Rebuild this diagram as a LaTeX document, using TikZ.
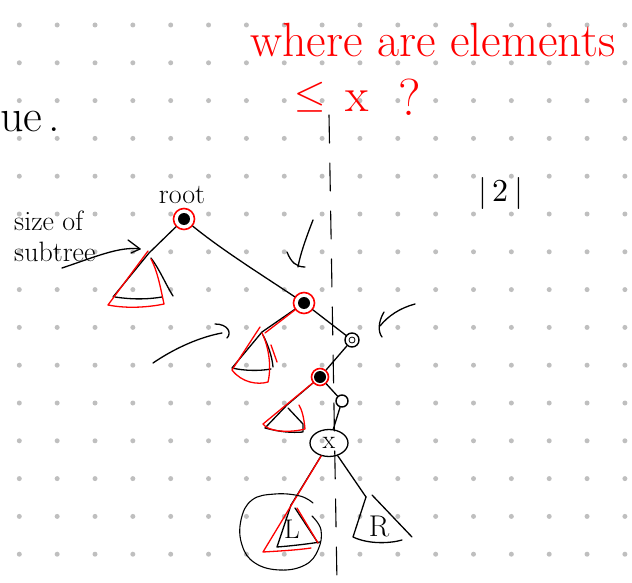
\documentclass[tikz,border=0pt]{standalone}
\usepackage{unicode-math}
\usetikzlibrary{shapes.geometric}
\begin{document}
\begin{tikzpicture}[x=1pt,y=-1pt,
  ink/.style={line width=1.3pt, line cap=round, line join=round},
  redink/.style={ink, red},
  dotgrid/.style={fill=black!25},
  rednode/.style={circle, draw=red, line width=1.6pt, minimum size=21pt, inner sep=0pt,
    path picture={\fill[black] (path picture bounding box.center) circle (6pt);}},
  smallred/.style={rednode, minimum size=17pt},
  hollow/.style={circle, draw=black, line width=1.4pt, minimum size=14pt, inner sep=0pt,
    path picture={\draw[black, line width=0.8pt] (path picture bounding box.center) circle (3pt);}},
  tiny/.style={circle, draw=black, line width=1.4pt, minimum size=12pt, inner sep=0pt},
  xnode/.style={ellipse, draw=black, line width=1.3pt, minimum width=38pt, minimum height=27pt, inner sep=0pt, font=\fontsize{26}{28}\selectfont},
  redtext/.style={text=red, inner sep=0pt},
  handtext/.style={text=black, inner sep=0pt}
]
\useasboundingbox (0,0) rectangle (632,583);
% dot grid
\foreach \i in {0,...,16}{
  \foreach \j in {0,...,14}{
    \fill[dotgrid] (19.3+37.85*\i, 25+37.8*\j) circle (2.5);
  }
}
% texts
\node[redtext, anchor=base west, font=\fontsize{48}{52}\selectfont] (title) at (250,57) {where are elements};
\node[redtext, anchor=base west, font=\fontsize{40}{44}\selectfont] (le) at (294,108) {$\leq$};
\node[redtext, anchor=base west, font=\fontsize{48}{52}\selectfont] (xq) at (345,112) {x};
\node[redtext, anchor=base west, font=\fontsize{52}{56}\selectfont] (qm) at (398,116) {?};
\node[handtext, anchor=base west, font=\fontsize{46}{50}\selectfont] (ue) at (0,132) {ue\hspace{6pt}.};
\node[handtext, anchor=base, font=\fontsize{28}{30}\selectfont] (rootlbl) at (182,203) {root};
\node[handtext, anchor=base west, font=\fontsize{28}{30}\selectfont] (size) at (14,230) {size of};
\node[handtext, anchor=base west, font=\fontsize{28}{30}\selectfont] (subtree) at (14,261) {subtree};
\node[handtext, anchor=base, font=\fontsize{32}{34}\selectfont] (two) at (501,201) {$|\,2\,|$};
% dashed separator
\coordinate (dtop) at (329,115);
\coordinate (dbot) at (337,583);
\draw[ink, line width=1.1pt, dash pattern=on 28pt off 20pt] (dtop) -- (dbot);
% tree nodes
\node[rednode] (root) at (184,219) {};
\node[rednode] (n2) at (304,303) {};
\node[hollow] (n3) at (352,340) {};
\node[smallred] (n4) at (320,377) {};
\node[tiny] (n5) at (342,401) {};
\node[xnode] (nx) at (329,443) {x};
% subtree apexes
\coordinate (ra) at (149,253);
\coordinate (a2) at (262,332);
\coordinate (a4) at (287,405);
\coordinate (la) at (291,505);
\coordinate (rr) at (366,497);
% edges
\draw[ink] (root) .. controls (222,250) and (262,275) .. (n2);
\draw[ink] (n2) -- (n3);
\draw[ink] (n3) -- (n4);
\draw[ink] (n4) -- (n5);
\draw[ink] (n5) -- (nx);
\draw[ink] (root) -- (ra);
\draw[ink] (n2) -- (a2);
\draw[ink] (n4) -- (a4);
\draw[ink] (nx) -- (la);
\draw[ink] (nx) -- (rr);
% root-left subtree
\draw[ink] (ra) -- (113,297);
\draw[ink] (115,297) .. controls (135,300) and (150,299) .. (162,297);
\draw[ink] (151,258) .. controls (160,270) and (166,285) .. (173,296);
\draw[redink] (148,251) -- (108,305) .. controls (128,309) and (150,307) .. (164,304) .. controls (160,285) and (157,270) .. (151,259);
% n2-left subtree
\draw[ink] (a2) -- (232,368) .. controls (245,371) and (260,371) .. (271,369);
\draw[ink] (263,335) .. controls (268,345) and (272,356) .. (273,367);
\draw[redink] (n2) -- (265,333);
\draw[redink] (260,327) -- (232,370) .. controls (242,383) and (258,385) .. (268,382) .. controls (272,365) and (268,345) .. (262,333);
\draw[redink] (271,345) -- (277,362);
% n4-left subtree
\draw[ink] (a4) -- (265,428) .. controls (280,432) and (292,433) .. (303,432) -- (303,424) -- (288,408);
\draw[redink] (n4) -- (263,424) .. controls (268,432) and (290,433) .. (305,429) .. controls (304,418) and (302,410) .. (299,405);
% L subtree
\draw[ink] (la) -- (277,547) .. controls (290,546) and (308,544) .. (320,542);
\draw[ink] (295,508) -- (318,543);
\draw[redink] (nx) -- (263,552) .. controls (280,551) and (298,550) .. (311,548);
\draw[redink] (297,508) -- (318,543);
\node[handtext, font=\fontsize{27}{29}\selectfont] (Ltext) at (292,529) {L};
\draw[ink, line width=1.1pt] plot[smooth, tension=0.7] coordinates {(313,503) (300,496) (275,494) (252,500) (241,520) (242,545) (255,563) (280,570) (305,565) (318,550) (321,530) (312,516)};
% R subtree
\draw[ink] (rr) -- (353,537) .. controls (370,545) and (392,543) .. (402,540);
\draw[ink] (372,495) -- (412,537);
\node[handtext, font=\fontsize{30}{32}\selectfont] (Rtext) at (379,526) {R};
% annotation arrows
\coordinate (s1) at (62,268);
\coordinate (s2) at (140,249);
\draw[ink] (s1) .. controls (95,257) and (120,246) .. (s2);
\draw[ink] (128,240) -- (s2) -- (131,253);
\coordinate (d1) at (313,220);
\coordinate (d2) at (298,267);
\draw[ink] (d1) .. controls (306,238) and (300,255) .. (d2);
\draw[ink] (287,252) .. controls (291,262) and (296,267) .. (305,267);
\coordinate (l1) at (153,363);
\coordinate (l2) at (222,333);
\draw[ink] (l1) .. controls (175,348) and (200,337) .. (l2);
\draw[ink] (215,324) .. controls (228,324) and (232,333) .. (227,338);
\coordinate (r1) at (415,304);
\coordinate (r2) at (380,326);
\draw[ink] (r1) .. controls (400,308) and (388,316) .. (r2);
\draw[ink] (384,312) .. controls (378,322) and (378,332) .. (382,337);
\end{tikzpicture}
\end{document}
